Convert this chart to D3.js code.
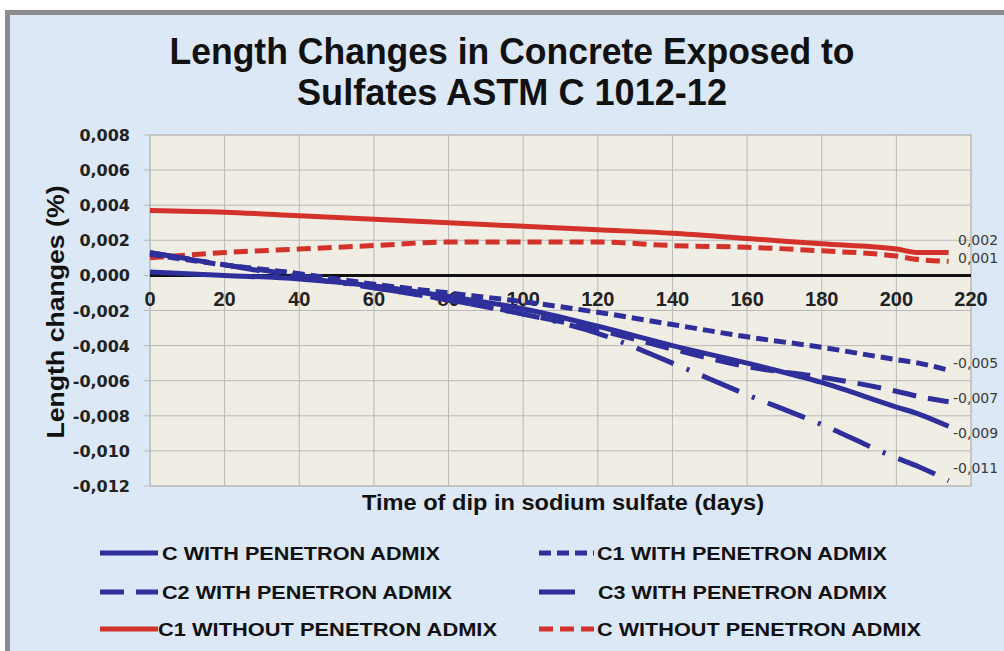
<!DOCTYPE html>
<html><head><meta charset="utf-8">
<script src="https://cdn.jsdelivr.net/npm/d3@7"></script>
<style>body{margin:0;background:#fff}</style>
</head><body>
<svg id="c" width="1004" height="651"></svg>
<script>
// ---- data ----
const days = [0, 20, 40, 60, 80, 100, 120, 140, 160, 180, 200, 206, 214];
const cWith      = [0.0002, 0.0000, -0.0002, -0.0006, -0.0012, -0.0019, -0.0029, -0.0040, -0.0050, -0.0061, -0.0075, -0.0079, -0.0086];
const c1With     = [0.0012, 0.0006, 0.0001, -0.0005, -0.0010, -0.0015, -0.0021, -0.0028, -0.0035, -0.0041, -0.0048, -0.0050, -0.0054];
const c2With     = [0.0013, 0.0006, 0.0000, -0.0007, -0.0014, -0.0022, -0.0031, -0.0042, -0.0052, -0.0058, -0.0066, -0.0069, -0.0072];
const c3With     = [0.0013, 0.0006, -0.0001, -0.0007, -0.0014, -0.0022, -0.0033, -0.0050, -0.0068, -0.0085, -0.0104, -0.0109, -0.0117];
const c1Without  = [0.0037, 0.0036, 0.0034, 0.0032, 0.0030, 0.0028, 0.0026, 0.0024, 0.0021, 0.0018, 0.0015, 0.0013, 0.0013];
const cWithout   = [0.0010, 0.0013, 0.0015, 0.0017, 0.0019, 0.0019, 0.0019, 0.0017, 0.0016, 0.0014, 0.0011, 0.0009, 0.0008];
const seriesNames = ["C WITH PENETRON ADMIX", "C1 WITH PENETRON ADMIX", "C2 WITH PENETRON ADMIX",
                     "C3 WITH PENETRON ADMIX", "C1 WITHOUT PENETRON ADMIX", "C WITHOUT PENETRON ADMIX"];
const endLabelValues = [-0.009, -0.005, -0.007, -0.011, 0.002, 0.001];
const xTickValues = [0, 20, 40, 60, 80, 100, 120, 140, 160, 180, 200, 220];
const yTickValues = [0.008, 0.006, 0.004, 0.002, 0.000, -0.002, -0.004, -0.006, -0.008, -0.010, -0.012];
const titleLines = ["Length Changes in Concrete Exposed to", "Sulfates ASTM C 1012-12"];
const xTitle = "Time of dip in sodium sulfate (days)";
const yTitle = "Length changes (%)";

// ---- styles ----
const BLUE = "#2f2f9c", RED = "#d3322b";
const styles = [
  {color: BLUE, dash: null},
  {color: BLUE, dash: "12,6"},
  {color: BLUE, dash: "24,12"},
  {color: BLUE, dash: "40,14,3,14"},
  {color: RED, dash: null},
  {color: RED, dash: "14,7"}
];
const seriesValues = [cWith, c1With, c2With, c3With, c1Without, cWithout];

const svg = d3.select("#c");
const W = 1004, H = 651;

// frame & background
svg.append("rect").attr("x", 5).attr("y", 10).attr("width", W - 5).attr("height", H - 10).attr("fill", "#8c8c8c");
svg.append("rect").attr("x", 10).attr("y", 15).attr("width", W - 10).attr("height", H - 15).attr("fill", "#dce8f5");

const x = d3.scaleLinear().domain([0, 220]).range([150, 971]);
const y = d3.scaleLinear().domain([-0.012, 0.008]).range([486, 135]);

// plot area
svg.append("rect").attr("x", x(0)).attr("y", y(0.008)).attr("width", x(220) - x(0)).attr("height", y(-0.012) - y(0.008))
  .attr("fill", "#f0ede4").attr("stroke", "#b9b9b9");

// grid
const g = svg.append("g");
g.selectAll("line.v").data(xTickValues).enter().append("line")
  .attr("x1", d => x(d)).attr("x2", d => x(d)).attr("y1", y(0.008)).attr("y2", y(-0.012))
  .attr("stroke", "#b9b9b9").attr("stroke-width", 1);
g.selectAll("line.h").data(yTickValues).enter().append("line")
  .attr("x1", x(0) - 6).attr("x2", x(220)).attr("y1", d => y(d)).attr("y2", d => y(d))
  .attr("stroke", "#b9b9b9").attr("stroke-width", 1);

// y axis labels
const fmt = v => d3.format(".3f")(v).replace(".", ",").replace("−", "-");
svg.append("g").selectAll("text").data(yTickValues).enter().append("text")
  .attr("x", 130).attr("y", d => y(d) + 6).attr("text-anchor", "end")
  .attr("font-family", "DejaVu Sans").attr("font-weight", "bold").attr("font-size", 16)
  .attr("fill", "#222").text(d => fmt(d));

// zero line
svg.append("line").attr("x1", x(0)).attr("x2", x(220)).attr("y1", y(0)).attr("y2", y(0))
  .attr("stroke", "#111").attr("stroke-width", 3);

// x axis labels
svg.append("g").selectAll("text").data(xTickValues).enter().append("text")
  .attr("x", d => x(d)).attr("y", y(0) + 31).attr("text-anchor", "middle")
  .attr("font-family", "Liberation Sans, Arial").attr("font-weight", "bold").attr("font-size", 20)
  .attr("fill", "#222").text(d => d);

// lines
const line = d3.line().x((d, i) => x(days[i])).y(d => y(d)).curve(d3.curveMonotoneX);
const order = [4, 5, 1, 2, 0, 3];
order.forEach(k => {
  svg.append("path").datum(seriesValues[k]).attr("d", line)
    .attr("fill", "none").attr("stroke", styles[k].color).attr("stroke-width", 5)
    .attr("stroke-dasharray", styles[k].dash);
});

// end labels
svg.append("g").selectAll("text").data(endLabelValues).enter().append("text")
  .attr("x", d => d < 0 ? 953 : 958).attr("y", d => y(d) + 5)
  .attr("font-family", "DejaVu Sans").attr("font-size", 14).attr("fill", "#3a3a3a")
  .text(d => fmt(d));

function fit(sel, w) {
  sel.each(function () {
    const n = this.getComputedTextLength();
    if (n > 0) d3.select(this).attr("textLength", w).attr("lengthAdjust", "spacingAndGlyphs");
  });
}

// title
const tf = "Liberation Sans, Arial";
const t1 = svg.append("text").attr("x", 512).attr("y", 64).attr("text-anchor", "middle")
  .attr("font-family", tf).attr("font-weight", "bold").attr("font-size", 37).attr("fill", "#111").text(titleLines[0]);
fit(t1, 685);
const t2 = svg.append("text").attr("x", 512).attr("y", 105).attr("text-anchor", "middle")
  .attr("font-family", tf).attr("font-weight", "bold").attr("font-size", 37).attr("fill", "#111").text(titleLines[1]);
fit(t2, 430);

// axis titles
const xt = svg.append("text").attr("x", 563).attr("y", 510).attr("text-anchor", "middle")
  .attr("font-family", tf).attr("font-weight", "bold").attr("font-size", 22).attr("fill", "#111").text(xTitle);
fit(xt, 402);
const yt = svg.append("text").attr("transform", "translate(64,312) rotate(-90)").attr("text-anchor", "middle")
  .attr("font-family", tf).attr("font-weight", "bold").attr("font-size", 24).attr("fill", "#111").text(yTitle);
fit(yt, 253);

// legend
const legend = [
  {k: 0, x1: 100, x2: 158, tx: 162, ty: 553, w: 278},
  {k: 1, x1: 539, x2: 594, tx: 597, ty: 553, w: 290},
  {k: 2, x1: 100, x2: 158, tx: 162, ty: 592, w: 290},
  {k: 3, x1: 539, x2: 575, tx: 598, ty: 592, w: 289},
  {k: 4, x1: 100, x2: 158, tx: 158, ty: 629, w: 339},
  {k: 5, x1: 539, x2: 594, tx: 597, ty: 629, w: 324}
];
legend.forEach(L => {
  svg.append("line").attr("x1", L.x1).attr("x2", L.x2).attr("y1", L.ty).attr("y2", L.ty)
    .attr("stroke", styles[L.k].color).attr("stroke-width", 5).attr("stroke-dasharray", styles[L.k].dash);
  const t = svg.append("text").attr("x", L.tx).attr("y", L.ty + 7)
    .attr("font-family", tf).attr("font-weight", "bold").attr("font-size", 19).attr("fill", "#111")
    .text(seriesNames[L.k]);
  fit(t, L.w);
});
</script>
</body></html>
